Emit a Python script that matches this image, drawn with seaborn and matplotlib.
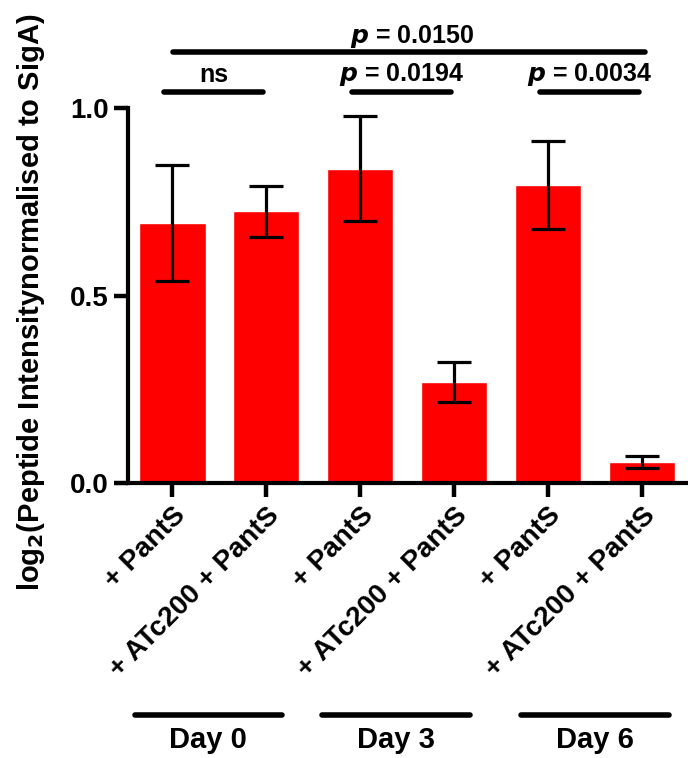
import numpy as np
import pandas as pd
import seaborn as sns
import matplotlib.pyplot as plt

# data
conditions = ["+ PantS", "+ ATc200 + PantS", "+ PantS ", "+ ATc200 + PantS ", "+ PantS  ", "+ ATc200 + PantS  "]
tick_labels = ["+ PantS", "+ ATc200 + PantS", "+ PantS", "+ ATc200 + PantS", "+ PantS", "+ ATc200 + PantS"]
means = [0.694, 0.725, 0.838, 0.270, 0.795, 0.055]
errors = [0.155, 0.068, 0.140, 0.053, 0.118, 0.016]
days = ["Day 0", "Day 3", "Day 6"]
comparisons = [(0, 1, "ns"), (2, 3, "p = 0.0194"), (4, 5, "p = 0.0034")]
overall = (0, 5, "p = 0.0150")

sns.set_style("white")
plt.rcParams["font.family"] = ["Liberation Sans", "DejaVu Sans"]
plt.rcParams["font.weight"] = "bold"
for key in ["text.color", "axes.labelcolor", "xtick.color", "ytick.color"]:
    plt.rcParams[key] = "black"

df = pd.DataFrame({"condition": conditions, "value": means})

fig = plt.figure(figsize=(6.88, 7.58), dpi=100)
ax = fig.add_axes([128 / 688, 275 / 758, 560 / 688, 1.25 * 375 / 758])

sns.barplot(data=df, x="condition", y="value", color="#ff0000", saturation=1,
            width=0.71, ax=ax)
ax.errorbar(range(len(means)), means, yerr=errors, fmt="none", ecolor="black",
            elinewidth=2.3, capsize=12, capthick=2.3, clip_on=False)

ax.set_xlim(-0.47, 5.49)
ax.set_ylim(0, 1.25)
ax.set_yticks([0.0, 0.5, 1.0])
ax.set_yticklabels(["0.0", "0.5", "1.0"], fontsize=20, fontweight="bold")
ax.set_xticks(range(len(tick_labels)))
ax.set_xticklabels(tick_labels, rotation=45, ha="right", rotation_mode="anchor",
                   fontsize=20, fontweight="bold")
ax.set_xlabel("")
ax.set_ylabel("log$_\\mathbf{2}$(Peptide Intensitynormalised to SigA)",
              fontsize=21, fontweight="bold", color="black")
ax.yaxis.set_label_coords(-0.145, 0.385)

sns.despine(ax=ax)
ax.spines["left"].set_bounds(0, 1.0)
for side in ["left", "bottom"]:
    ax.spines[side].set_linewidth(3)
    ax.spines[side].set_color("black")
ax.tick_params(axis="both", length=10, width=3.2, color="black", labelcolor="black",
               direction="out", left=True, bottom=True, pad=4)

# significance bars
def p_text(label):
    if label.startswith("p"):
        return "$\\mathbfit{p}$" + label[1:]
    return label

for i, j, label in comparisons:
    x0, x1 = i - 0.09, j - 0.03
    ax.plot([x0, x1], [1.043, 1.043], color="black", lw=4, solid_capstyle="round", clip_on=False)
    ax.text((x0 + x1) / 2, 1.088, p_text(label), ha="center", va="center",
            fontsize=18, fontweight="bold", color="black")
ax.plot([overall[0] + 0.01, overall[1] + 0.03], [1.149, 1.149], color="black", lw=4,
        solid_capstyle="round", clip_on=False)
ax.text(2.55, 1.19, p_text(overall[2]), ha="center", va="center", fontsize=18,
        fontweight="bold", color="black")

# day group lines below the axis
for k, day in enumerate(days):
    x0, x1 = 2 * k - 0.40, 2 * k + 1.17
    if k == 2:
        x0, x1 = 3.71, 5.29
    ax.plot([x0, x1], [-0.619, -0.619], color="black", lw=4, solid_capstyle="round", clip_on=False)
    ax.text((x0 + x1) / 2, -0.685, day, ha="center", va="center", fontsize=21,
            fontweight="bold", color="black")

fig.savefig("out.png", dpi=100)
